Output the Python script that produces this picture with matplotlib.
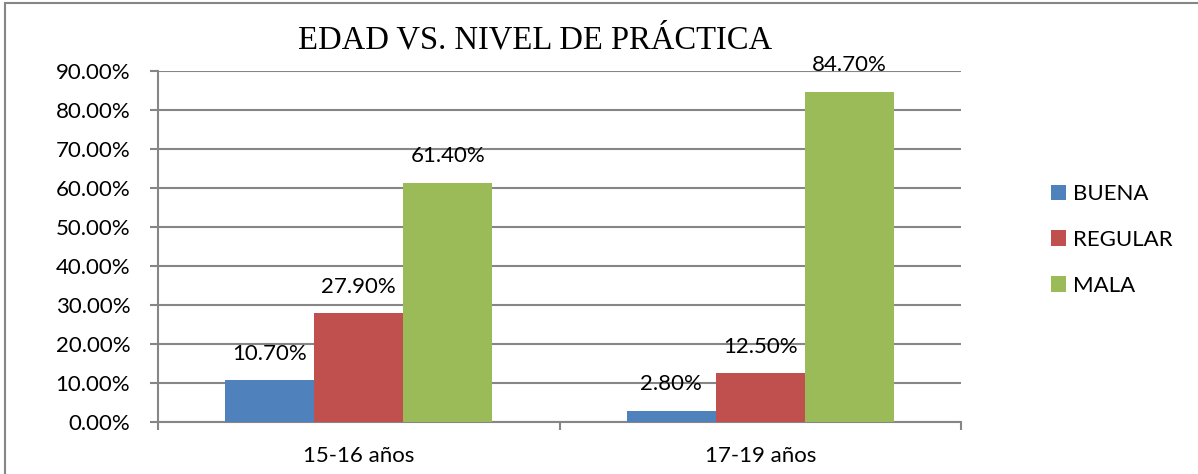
import matplotlib.pyplot as plt
import matplotlib.patches as mpatches
import numpy as np

plt.rcParams['font.family'] = ['Lato', 'DejaVu Sans']

categorias = ['15-16 años', '17-19 años']
series = ['BUENA', 'REGULAR', 'MALA']
buena = [10.7, 2.8]
regular = [27.9, 12.5]
mala = [61.4, 84.7]
colores = ['#4F81BD', '#C0504D', '#9BBB59']

fig = plt.figure(figsize=(11.98, 4.74), dpi=100)
ax = fig.add_axes([0.1319, 0.1097, 0.8022 - 0.1319, 0.8502 - 0.1097])

x = np.arange(len(categorias))
width = 0.222
gris = '#868686'
fs = 16

for i, (nombre, vals) in enumerate(zip(series, [buena, regular, mala])):
    pos = x + (i - 1) * width
    ax.bar(pos, vals, width, color=colores[i], label=nombre, zorder=3)
    for xp, v in zip(pos, vals):
        ax.annotate('%.2f%%' % v, (xp, v), xytext=(0, 12), textcoords='offset points',
                    ha='center', va='bottom', fontsize=fs)

ax.set_ylim(0, 90)
ax.set_xlim(-0.5, 1.5)
ax.set_yticks(np.arange(0, 91, 10))
ax.set_yticklabels(['%.2f%%' % v for v in np.arange(0, 91, 10)], fontsize=fs)
ax.yaxis.grid(True, color=gris, linewidth=1.5, zorder=0)
ax.set_axisbelow(True)

ax.set_xticks(x)
ax.set_xticklabels(categorias, fontsize=fs)
ax.set_xticks([-0.5, 0.5, 1.5], minor=True)
ax.tick_params(axis='x', which='major', length=0, pad=17)
ax.tick_params(axis='x', which='minor', length=6, width=1.5, color=gris)
ax.tick_params(axis='y', length=6, width=1.5, color=gris, pad=14)

for s in ['top', 'right']:
    ax.spines[s].set_visible(False)
for s in ['left', 'bottom']:
    ax.spines[s].set_color(gris)
    ax.spines[s].set_linewidth(1.5)

fig.text(0.447, 0.916, 'EDAD VS. NIVEL DE PRÁCTICA', ha='center', va='center',
         fontsize=23.5, family='Liberation Serif')

ax.legend(loc='center left', bbox_to_anchor=(1042 / 1198, 1 - 240 / 474),
          bbox_transform=fig.transFigure, frameon=False, fontsize=fs, borderaxespad=0,
          handlelength=0.7, handleheight=0.7, handletextpad=0.3, labelspacing=1.15)

# borde del grafico
fig.patches.append(mpatches.Rectangle((5 / 1198, -0.1), 1.2, 1 - 3 / 474 + 0.1,
                                      transform=fig.transFigure, fill=False,
                                      edgecolor=gris, linewidth=1.5))

fig.savefig('out.png', dpi=100)
